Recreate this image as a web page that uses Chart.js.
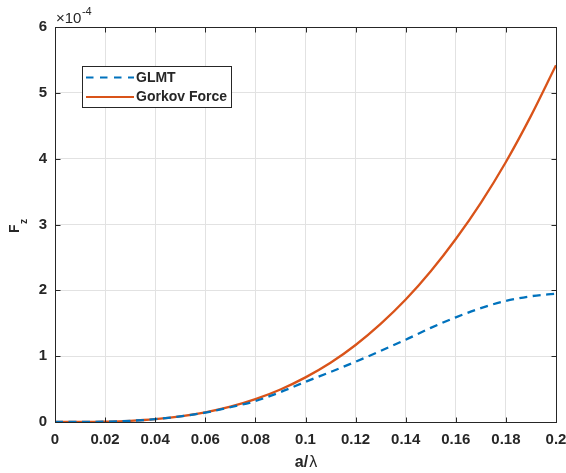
<!DOCTYPE html>
<html><head><meta charset="utf-8">
<script src="https://cdn.jsdelivr.net/npm/chart.js@4"></script>
<style>html,body{margin:0;padding:0;background:#fff}#wrap{width:566px;height:473px}</style>
</head><body><div id="wrap"><canvas id="c" width="566" height="473"></canvas></div>
<script>
const xValues = [0,0.01,0.02,0.03,0.04,0.05,0.06,0.07,0.08,0.09,0.10,0.11,0.12,0.13,0.14,0.15,0.16,0.17,0.18,0.19,0.20];
const glmt   = [0,0.0007,0.0054,0.018,0.043,0.084,0.143,0.224,0.318,0.455,0.610,0.760,0.915,1.080,1.250,1.430,1.590,1.730,1.840,1.910,1.950];
const gorkov = [0,0.0007,0.0054,0.018,0.043,0.085,0.146,0.232,0.347,0.494,0.678,0.900,1.170,1.490,1.860,2.290,2.780,3.330,3.950,4.650,5.420];
const xTicks = [0,0.02,0.04,0.06,0.08,0.1,0.12,0.14,0.16,0.18,0.2];
const xTickLabels = ['0','0.02','0.04','0.06','0.08','0.1','0.12','0.14','0.16','0.18','0.2'];
const yTicks = [0,1,2,3,4,5,6];
const yTickLabels = ['0','1','2','3','4','5','6'];
const seriesNames = ['GLMT','Gorkov Force'];

const FONT = '"Liberation Sans", Arial, sans-serif';
const TXT = '#262626';

const annot = {
  id:'annot',
  afterDraw(chart){
    const ctx = chart.ctx, a = chart.chartArea;
    ctx.save();
    ctx.strokeStyle = TXT; ctx.lineWidth = 1;
    const xs = chart.scales.x, ys = chart.scales.y;
    const L=Math.round(a.left)+0.5, R=Math.round(a.right)+0.5, T=Math.round(a.top)+0.5, B=Math.round(a.bottom)+0.5;
    ctx.beginPath();
    xTicks.forEach(v=>{const px=Math.round(xs.getPixelForValue(v))+0.5;
      ctx.moveTo(px,B);ctx.lineTo(px,B-5);ctx.moveTo(px,T);ctx.lineTo(px,T+5);});
    yTicks.forEach(v=>{const py=Math.round(ys.getPixelForValue(v))+0.5;
      ctx.moveTo(L,py);ctx.lineTo(L+5,py);ctx.moveTo(R,py);ctx.lineTo(R-5,py);});
    ctx.stroke();
    ctx.strokeRect(L, T, R-L, B-T);
    // exponent label
    ctx.fillStyle = TXT; ctx.textBaseline='alphabetic'; ctx.textAlign='left';
    ctx.font = '15px '+FONT;
    ctx.fillText('\u00d710', 56, 22.5);
    const w = ctx.measureText('\u00d710').width;
    ctx.font = '11px '+FONT;
    ctx.fillText('-4', 56+w+0.5, 15);
    // x title
    ctx.font = 'bold 16px '+FONT;
    const t1='a/'; const w1=ctx.measureText(t1).width;
    ctx.font = '16px '+FONT;
    const w2=ctx.measureText('\u03bb').width;
    const cx=(a.left+a.right)/2+0.5, sx=cx-(w1+1+w2)/2;
    ctx.font = 'bold 16px '+FONT; ctx.fillText(t1, sx, 466.5);
    ctx.font = '16px '+FONT; ctx.fillText('\u03bb', sx+w1+1, 466.5);
    // y title F_z
    ctx.save();
    ctx.translate(19, 233);
    ctx.rotate(-Math.PI/2);
    ctx.font = 'bold 14px '+FONT;
    const wf=ctx.measureText('F').width;
    ctx.fillText('F', 0, 0);
    ctx.font = 'bold 10px '+FONT; ctx.fillText('z', wf+0.5, 8);
    ctx.restore();
    // legend
    const lx=82, ly=66, lw=149, lh=41;
    ctx.fillStyle='#fff'; ctx.fillRect(lx,ly,lw,lh);
    ctx.strokeStyle=TXT; ctx.lineWidth=1; ctx.strokeRect(lx+0.5,ly+0.5,lw,lh);
    chart.data.datasets.forEach((ds,i)=>{
      const y = ly+11.5+i*19.5;
      ctx.strokeStyle=ds.borderColor; ctx.lineWidth=2;
      ctx.setLineDash(i===0?[7.5,6.5]:[]);
      ctx.beginPath(); ctx.moveTo(lx+4,y); ctx.lineTo(lx+52,y); ctx.stroke();
      ctx.setLineDash([]);
      ctx.fillStyle=TXT; ctx.font='bold 14px '+FONT; ctx.textBaseline='middle';
      ctx.fillText(ds.label, lx+54, y+0.5);
    });
    ctx.restore();
  }
};

new Chart(document.getElementById('c'), {
  type:'line',
  data:{datasets:[
    {label:seriesNames[0], data:xValues.map((x,i)=>({x, y:glmt[i]})), borderColor:'#0072BD', borderWidth:2.3, borderDash:[8,5.5], pointRadius:0, cubicInterpolationMode:'monotone', fill:false},
    {label:seriesNames[1], data:xValues.map((x,i)=>({x, y:gorkov[i]})), borderColor:'#D95319', borderWidth:2.3, pointRadius:0, cubicInterpolationMode:'monotone', fill:false}
  ]},
  options:{
    responsive:false, animation:false, devicePixelRatio:1,
    layout:{padding:{left:0, top:27, right:10, bottom:0}},
    plugins:{legend:{display:false}, tooltip:{enabled:false}},
    scales:{
      x:{type:'linear', min:0, max:0.2,
        afterBuildTicks:s=>{s.ticks = xTicks.map(v=>({value:v}));},
        afterFit:s=>{s.height=51; s.paddingLeft=0; s.paddingRight=0;},
        ticks:{callback:(v,i)=>xTickLabels[i], color:TXT, font:{family:FONT, size:15, weight:'bold'}, padding:9, maxRotation:0, autoSkip:false},
        grid:{color:'#e2e2e2', drawTicks:false}, border:{display:false}},
      y:{type:'linear', min:0, max:6,
        afterBuildTicks:s=>{s.ticks = yTicks.map(v=>({value:v}));},
        afterFit:s=>{s.width=55; s.paddingTop=0; s.paddingBottom=0;},
        ticks:{callback:(v,i)=>yTickLabels[i], color:TXT, font:{family:FONT, size:15, weight:'bold'}, padding:8},
        grid:{color:'#e2e2e2', drawTicks:false}, border:{display:false}}
    }
  },
  plugins:[annot]
});
</script></body></html>
